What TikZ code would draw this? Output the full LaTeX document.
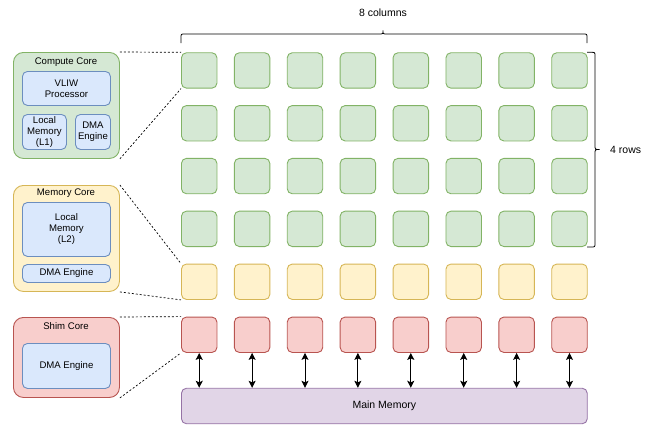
\documentclass[tikz,border=0pt]{standalone}
\usepackage{fontspec}
\setmainfont{Liberation Sans}
\usetikzlibrary{arrows.meta}
\definecolor{gF}{HTML}{D5E8D4}\definecolor{gD}{HTML}{82B366}
\definecolor{yF}{HTML}{FFF2CC}\definecolor{yD}{HTML}{D6B656}
\definecolor{rF}{HTML}{F8CECC}\definecolor{rD}{HTML}{B85450}
\definecolor{bF}{HTML}{DAE8FC}\definecolor{bD}{HTML}{6C8EBF}
\definecolor{pF}{HTML}{E1D5E7}\definecolor{pD}{HTML}{9673A6}
\tikzset{
  tile/.style={draw, line width=0.9pt, rounded corners=5pt, minimum width=35.5pt, minimum height=35.4pt, anchor=north west, inner sep=0pt},
  gtile/.style={tile, fill=gF, draw=gD},
  ytile/.style={tile, fill=yF, draw=yD},
  rtile/.style={tile, fill=rF, draw=rD},
  panel/.style={draw, line width=0.9pt, rounded corners=10pt, anchor=north west, inner sep=0pt, minimum width=106pt},
  inner/.style={draw=bD, fill=bF, line width=0.9pt, rounded corners=5pt, anchor=north west, inner sep=0pt, align=center, font=\fontsize{9.6}{11}\selectfont},
  ttl/.style={font=\fontsize{9.6}{11}\selectfont, inner sep=0pt},
  lbl/.style={font=\fontsize{10.5}{12}\selectfont, inner sep=0pt},
  dline/.style={draw=black, line width=0.7pt, dash pattern=on 2pt off 2pt},
  bidir/.style={{Stealth[length=7pt,width=7pt,inset=1.5pt]}-{Stealth[length=7pt,width=7pt,inset=1.5pt]}, line width=1pt},
  brace/.style={draw=black, line width=0.8pt}
}
\begin{document}
\begin{tikzpicture}[x=1pt,y=-1pt]
\useasboundingbox (0,0) rectangle (654,424);
% tiles
\foreach \i in {0,...,7}{
  \foreach \j in {0,...,3}{
    \node[gtile] (g-\j-\i) at ({181+52.9*\i},{52.3+52.8*\j}) {};
  }
  \node[ytile] (y-\i) at ({181+52.9*\i},263.6) {};
  \node[rtile] (r-\i) at ({181+52.9*\i},316.6) {};
}
\node[draw=pD, fill=pF, line width=0.9pt, rounded corners=5pt, anchor=north west, minimum width=405.8pt, minimum height=35.5pt, inner sep=0pt, font=\fontsize{10.5}{12}\selectfont] (mem) at (181,387.8) {Main Memory};
\foreach \i in {0,...,7}{
  \draw[bidir] (r-\i.south) -- (r-\i.south |- mem.north);
}
% Compute core panel
\node[panel, fill=gF, draw=gD, minimum height=106pt] (cc) at (13,52) {};
\node[ttl] (cct) at (66,62) {Compute Core};
\node[inner, minimum width=88pt, minimum height=34pt] (vliw) at (22,71) {VLIW\\Processor};
\node[inner, minimum width=44pt, minimum height=35pt] (l1) at (22,114) {Local\\Memory\\(L1)};
\node[inner, minimum width=35pt, minimum height=35pt] (dma1) at (75,114) {DMA\\Engine};
% Memory core panel
\node[panel, fill=yF, draw=yD, minimum height=106pt] (mc) at (13,185) {};
\node[ttl] (mct) at (66,193.5) {Memory Core};
\node[inner, minimum width=88pt, minimum height=54pt] (l2) at (22,202) {Local\\Memory\\(L2)};
\node[inner, minimum width=88pt, minimum height=18pt] (dma2) at (22,264) {DMA Engine};
% Shim core panel
\node[panel, fill=rF, draw=rD, minimum height=80pt] (sc) at (13,317) {};
\node[ttl] (sct) at (66,326) {Shim Core};
\node[inner, minimum width=88pt, minimum height=45pt] (dma3) at (22,343) {DMA Engine};
% dashed zoom lines
\draw[dline] (cc.north east) -- (g-0-0.north west);
\draw[dline] (cc.south east) -- (g-0-0.south west);
\draw[dline] (mc.north east) -- (y-0.north west);
\draw[dline] (mc.south east) -- (y-0.south west);
\draw[dline] (sc.north east) -- (r-0.north west);
\draw[dline] (sc.south east) -- (r-0.south west);
% top brace
\coordinate (tb1) at (181,43);
\coordinate (tb2) at (587,43);
\draw[brace] (tb1) -- ++(0,-5) .. controls +(0,-4) .. ++(4,-4) -- (379,34) .. controls (383,34) .. (383,30.5) .. controls (383,34) .. (387,34) -- (583,34) .. controls (587,34) .. (587,38) -- (tb2);
\node[lbl] (cols) at (383,13) {8 columns};
% right brace
\draw[brace] (587,52.3) -- (591,52.3) .. controls (595,52.3) .. (595,56.3) -- (595,145) .. controls (595,149.5) .. (599.5,149.5) .. controls (595,149.5) .. (595,154) -- (595,243) .. controls (595,247) .. (591,247) -- (587,247);
\node[lbl, anchor=west] (rows) at (610,149.5) {4 rows};
\end{tikzpicture}
\end{document}
